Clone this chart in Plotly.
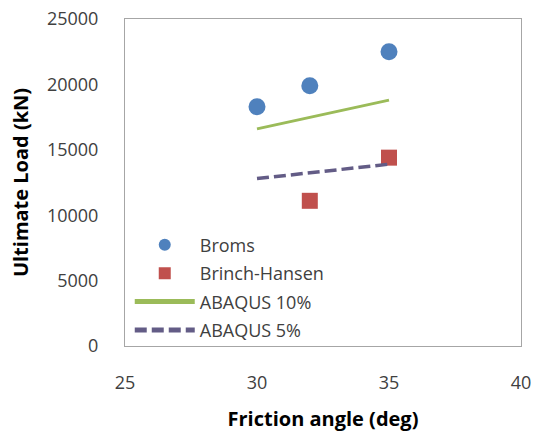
import plotly.graph_objects as go

broms_x = [30, 32, 35]
broms_y = [18300, 19900, 22500]
bh_x = [32, 35]
bh_y = [11100, 14400]
ab10_x = [30, 35]
ab10_y = [16600, 18800]
ab5_x = [30, 35]
ab5_y = [12800, 13900]

x_ticks = [25, 30, 35, 40]
y_ticks = [0, 5000, 10000, 15000, 20000, 25000]
y_ticktext = ["0", "5000", "10000", "15000", "20000", "25000"]

FONT = "Open Sans"

fig = go.Figure()
fig.add_trace(go.Scatter(x=broms_x, y=broms_y, mode="markers", name="Broms",
                         legendgroup="a",
                         marker=dict(symbol="circle", size=17, color="#4F81BD")))
fig.add_trace(go.Scatter(x=bh_x, y=bh_y, mode="markers", name="Brinch-Hansen",
                         legendgroup="b",
                         marker=dict(symbol="square", size=16, color="#C0504D")))
fig.add_trace(go.Scatter(x=ab10_x, y=ab10_y, mode="lines", name="ABAQUS 10%",
                         legendgroup="c",
                         line=dict(color="#9BBB59", width=3)))
fig.add_trace(go.Scatter(x=ab5_x, y=ab5_y, mode="lines", name="ABAQUS 5%",
                         legendgroup="d",
                         line=dict(color="#635C86", width=3.5, dash="12px,5px")))

fig.update_layout(
    width=533, height=432,
    margin=dict(l=125, r=12, t=19, b=86),
    paper_bgcolor="white", plot_bgcolor="white",
    font=dict(family=FONT, size=18, color="#404040"),
    legend=dict(x=0.012, y=-0.008, xanchor="left", yanchor="bottom",
                bgcolor="rgba(0,0,0,0)", tracegroupgap=2,
                itemsizing="constant", itemwidth=60,
                font=dict(family=FONT, size=18, color="#404040")),
    xaxis=dict(range=[25, 40], tickvals=x_ticks, showgrid=False, zeroline=False,
               showline=True, mirror=True, linecolor="#A6A6A6", linewidth=1,
               ticks="", ticklabelstandoff=20, automargin=False,
               title=dict(text="<b>Friction angle (deg)</b>", standoff=26,
                          font=dict(family=FONT, size=20, color="#000000"))),
    yaxis=dict(range=[0, 25000], tickvals=y_ticks, ticktext=y_ticktext,
               showgrid=False, zeroline=False, automargin=False,
               showline=True, mirror=True, linecolor="#A6A6A6", linewidth=1,
               ticks="", ticklabelstandoff=22,
               title=dict(text="<b>Ultimate Load (kN)</b>", standoff=12,
                          font=dict(family=FONT, size=20, color="#000000"))),
)

fig.write_html("out.html")
